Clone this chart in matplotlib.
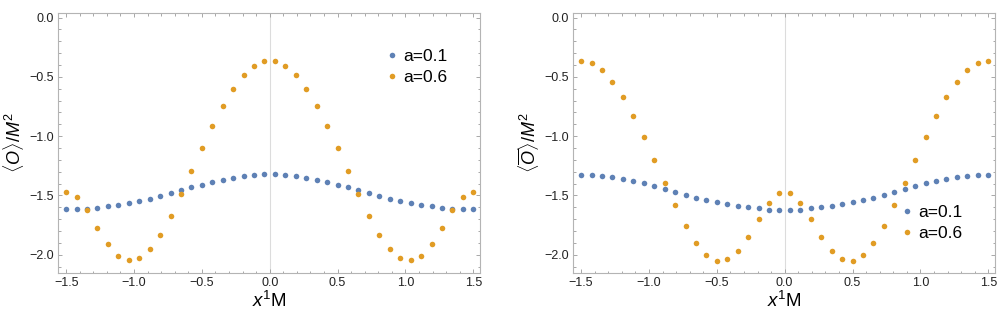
import matplotlib
matplotlib.use("Agg")
import matplotlib.pyplot as plt
from matplotlib.ticker import MultipleLocator
import numpy as np

plt.rcParams['font.family'] = ['Liberation Sans', 'DejaVu Sans']
plt.rcParams['mathtext.fontset'] = 'custom'
plt.rcParams['mathtext.rm'] = 'Liberation Sans'
plt.rcParams['mathtext.it'] = 'Liberation Sans:italic'

# sample positions x^1 M (40 evenly spaced points)
x = np.linspace(-1.5, 1.5, 40)

# left panel <O>/M^2, first half (symmetric about 0)
o_a01_half = [-1.616, -1.616, -1.613, -1.605, -1.593, -1.582, -1.565, -1.548, -1.528, -1.506,
              -1.483, -1.458, -1.432, -1.410, -1.387, -1.367, -1.350, -1.336, -1.328, -1.322]
o_a06_half = [-1.472, -1.514, -1.627, -1.774, -1.910, -2.008, -2.048, -2.031, -1.955, -1.833,
              -1.672, -1.492, -1.294, -1.099, -0.912, -0.743, -0.599, -0.486, -0.407, -0.367]

# right panel <Obar>/M^2, first half (symmetric about 0)
ob_a01_half = [-1.325, -1.325, -1.333, -1.345, -1.359, -1.379, -1.398, -1.424, -1.446, -1.472,
               -1.497, -1.520, -1.542, -1.559, -1.576, -1.590, -1.602, -1.610, -1.619, -1.619]
ob_a06_half = [-0.364, -0.384, -0.444, -0.540, -0.669, -0.828, -1.006, -1.198, -1.396, -1.585,
               -1.757, -1.901, -2.003, -2.051, -2.040, -1.966, -1.847, -1.701, -1.565, -1.483]

o_a01 = o_a01_half + o_a01_half[::-1]
o_a06 = o_a06_half + o_a06_half[::-1]
ob_a01 = ob_a01_half + ob_a01_half[::-1]
ob_a06 = ob_a06_half + ob_a06_half[::-1]

labels = ["a=0.1", "a=0.6"]
blue = "#5E81B5"
orange = "#E19C24"

fig = plt.figure(figsize=(9.97, 3.29), dpi=100)
ax1 = fig.add_axes([0.0582, 0.170, 0.4233, 0.790])
ax2 = fig.add_axes([0.5747, 0.170, 0.4233, 0.790])


def style(ax):
    ax.set_xlim(-1.56, 1.55)
    ax.set_ylim(-2.155, 0.037)
    ax.axvline(0, color="#dcdcdc", lw=0.8, zorder=0)
    for s in ax.spines.values():
        s.set_color("#b4b4b4")
        s.set_linewidth(0.8)
    ax.xaxis.set_major_locator(MultipleLocator(0.5))
    ax.xaxis.set_minor_locator(MultipleLocator(0.1))
    ax.yaxis.set_major_locator(MultipleLocator(0.5))
    ax.yaxis.set_minor_locator(MultipleLocator(0.1))
    ax.tick_params(which="both", direction="in", top=True, right=True,
                   color="#9a9a9a", width=0.6, labelsize=9, labelcolor="#222222")
    ax.tick_params(which="major", length=3.2, pad=3)
    ax.tick_params(which="minor", length=1.8)
    ax.set_xlabel(r"$x^1$M", fontsize=13.5, labelpad=1)


def add_legend(ax, y):
    ax.legend(loc="upper left", bbox_to_anchor=(0.778, y), frameon=False,
              fontsize=12.5, handlelength=0.6, handletextpad=0.35, labelspacing=0.35,
              borderpad=0, borderaxespad=0)


ax1.plot(x, o_a01, "o", color=blue, ms=4, mew=0, label=labels[0])
ax1.plot(x, o_a06, "o", color=orange, ms=4, mew=0, label=labels[1])
style(ax1)
ax1.set_ylabel(r"$\langle O\rangle/M^2$", fontsize=13, labelpad=2)
add_legend(ax1, 0.863)

ax2.plot(x, ob_a01, "o", color=blue, ms=4, mew=0, label=labels[0])
ax2.plot(x, ob_a06, "o", color=orange, ms=4, mew=0, label=labels[1])
style(ax2)
ax2.set_ylabel(r"$\langle\overline{O}\rangle/M^2$", fontsize=13, labelpad=2)
add_legend(ax2, 0.263)

fig.savefig("out.png", dpi=100)
